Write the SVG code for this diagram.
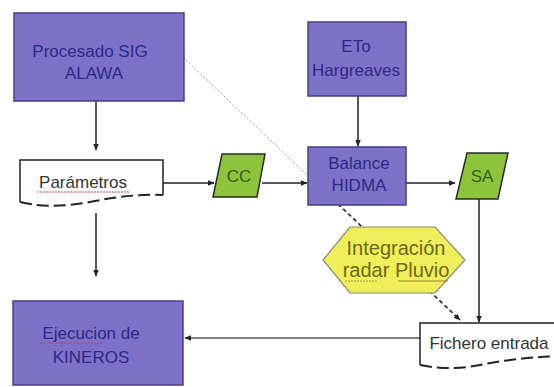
<svg xmlns="http://www.w3.org/2000/svg" width="554" height="387" viewBox="0 0 554 387">
<defs>
<style>
.proc{fill:#7d72c8;stroke:#463e8c;stroke-width:1.5}
.ptxt{font-family:"Liberation Sans",Arial,sans-serif;font-size:17px;fill:#2c2a86;text-anchor:middle}
.io{fill:#8dc43c;stroke:#2a2a2a;stroke-width:1.5}
.iotxt{font-family:"Liberation Sans",Arial,sans-serif;font-size:17px;fill:#3a5a10;text-anchor:middle}
.doc{fill:#ffffff;stroke:#222;stroke-width:1.5}
.dtxt{font-family:"Liberation Sans",Arial,sans-serif;font-size:17px;fill:#333;text-anchor:middle}
.hex{fill:#f0ee5a;stroke:#8a8a70;stroke-width:1.2}
.htxt{font-family:"Liberation Sans",Arial,sans-serif;font-size:20px;fill:#6a6a18;text-anchor:middle}
.con{fill:none;stroke:#222;stroke-width:1.5}
.red{fill:none;stroke:#c04050;stroke-width:1;stroke-dasharray:2 1}
</style>
<marker id="arr" viewBox="0 0 10 10" refX="9" refY="5" markerWidth="7" markerHeight="7" orient="auto" markerUnits="userSpaceOnUse">
<path d="M0,1 L10,5 L0,9 z" fill="#222"/>
</marker>
</defs>
<rect width="554" height="387" fill="#ffffff"/>
<g id="connectors">
<line x1="186" y1="60" x2="308" y2="176" stroke="#999" stroke-width="1" stroke-dasharray="2 2"/>
<line x1="338" y1="204" x2="460" y2="320" stroke="#333" stroke-width="1.8" stroke-dasharray="4 3" marker-end="url(#arr)"/>
<line class="con" x1="96" y1="101" x2="96" y2="150" marker-end="url(#arr)"/>
<line class="con" x1="96" y1="213" x2="96" y2="276" marker-end="url(#arr)"/>
<line class="con" x1="358" y1="96" x2="358" y2="146" marker-end="url(#arr)"/>
<line class="con" x1="163" y1="183" x2="214" y2="183" marker-end="url(#arr)"/>
<line class="con" x1="262" y1="183" x2="307" y2="183" marker-end="url(#arr)"/>
<line class="con" x1="406" y1="183" x2="455" y2="183" marker-end="url(#arr)"/>
<line class="con" x1="479" y1="199" x2="479" y2="322" marker-end="url(#arr)"/>
<line x1="420" y1="338" x2="185" y2="338" stroke="#555" stroke-width="1.5" marker-end="url(#arr)"/>
</g>
<g id="procesado">
<rect class="proc" x="14" y="13" width="170" height="88"/>
<text class="ptxt" x="90" y="57">Procesado SIG</text>
<text class="ptxt" x="94" y="79">ALAWA</text>
</g>
<g id="eto">
<rect class="proc" x="308" y="22" width="98" height="74"/>
<text class="ptxt" x="356" y="52">ETo</text>
<text class="ptxt" x="356" y="76">Hargreaves</text>
</g>
<g id="parametros">
<path class="doc" d="M20,202 L20,160 L163,160 L163,195"/>
<path d="M20,202 C45,208 70,206 95,201 C120,196 145,194 163,195" fill="none" stroke="#222" stroke-width="2" stroke-dasharray="12 5"/>
<text class="dtxt" x="83" y="188">Parámetros</text>
<line class="red" x1="37" y1="192" x2="130" y2="192"/>
</g>
<g id="cc">
<polygon class="io" points="222,154 265,154 257,197 213,197"/>
<text class="iotxt" x="239" y="182">CC</text>
</g>
<g id="balance">
<rect class="proc" x="308" y="147" width="98" height="58"/>
<text class="ptxt" x="359" y="169">Balance</text>
<text class="ptxt" x="359" y="191">HIDMA</text>
</g>
<g id="sa">
<polygon class="io" points="467,153 508,153 498,199 456,199"/>
<text class="iotxt" x="482" y="182">SA</text>
</g>
<g id="integracion">
<polygon class="hex" points="350,227 435,227 465,260 435,293 350,293 323,260"/>
<text class="htxt" x="396" y="255">Integración</text>
<text class="htxt" x="396" y="277">radar Pluvio</text>
<line x1="345" y1="281" x2="378" y2="281" stroke="#8a8a40" stroke-width="0.8" stroke-dasharray="2 1"/>
<line x1="398" y1="281" x2="448" y2="281" stroke="#8a6a20" stroke-width="0.8"/>
</g>
<g id="fichero">
<path class="doc" d="M420,365 L420,323 L560,323 L560,357"/>
<path d="M420,365 C440,369 460,369 480,365 C505,360 530,357 560,356" fill="none" stroke="#222" stroke-width="2" stroke-dasharray="12 5"/>
<text class="dtxt" x="489" y="349">Fichero entrada</text>
</g>
<g id="ejecucion">
<rect class="proc" x="13" y="301" width="170" height="84"/>
<text class="ptxt" x="91" y="339">Ejecucion de</text>
<text class="ptxt" x="91" y="363">KINEROS</text>
<line class="red" x1="40" y1="343" x2="102" y2="343"/>
</g>
</svg>
